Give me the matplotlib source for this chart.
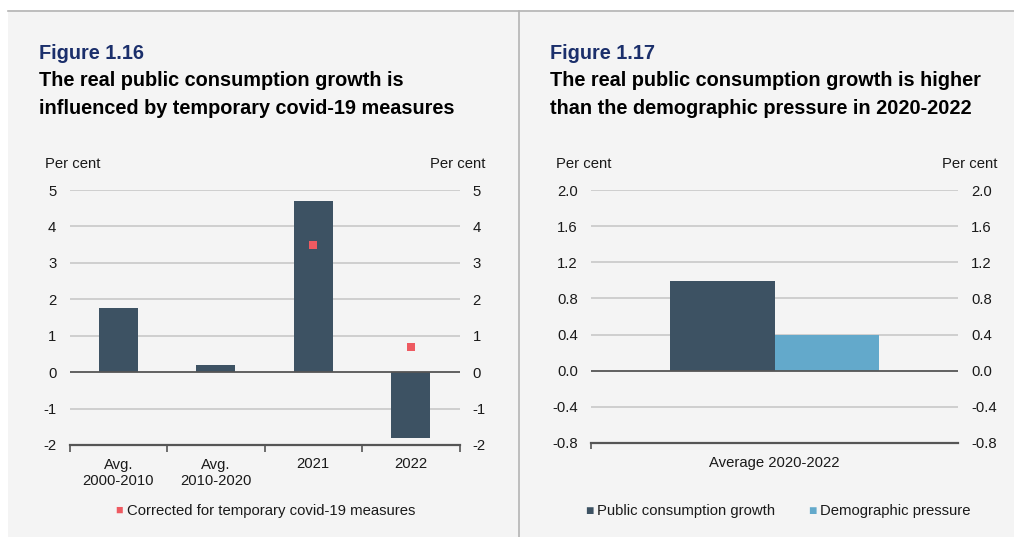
import matplotlib
matplotlib.use("Agg")
import matplotlib.pyplot as plt
from matplotlib.patches import Rectangle
from matplotlib.lines import Line2D
import numpy as np

plt.rcParams['font.family'] = ['Liberation Sans', 'DejaVu Sans']

# ---- data ----
left_categories = ["Avg.\n2000-2010", "Avg.\n2010-2020", "2021", "2022"]
left_growth = [1.75, 0.2, 4.7, -1.8]
left_corrected = [np.nan, np.nan, 3.5, 0.7]
left_ticks = [5, 4, 3, 2, 1, 0, -1, -2]

right_category = ["Average 2020-2022"]
right_public = [0.99]
right_demographic = [0.40]
right_ticks = [2.0, 1.6, 1.2, 0.8, 0.4, 0.0, -0.4, -0.8]

# ---- style ----
W, H = 1014, 537
BG = "#f4f4f4"
DARK = "#3d5263"
LIGHT = "#63a9cb"
RED = "#ee5a61"
GRID = "#c8c8c8"
AXLINE = "#555555"
NAVY = "#1b2f6b"
TXT = "#1a1a1a"
TS = 14.3   # title size
FS = 10.7   # body text size
PAD = 9.5   # tick label padding

fig = plt.figure(figsize=(W / 100, H / 100), dpi=100)
fig.patch.set_facecolor("white")


def px(x0, y0, x1, y1):
    """Axes rectangle from pixel box (top-left origin)."""
    return [x0 / W, 1 - y1 / H, (x1 - x0) / W, (y1 - y0) / H]


def fx(x):
    return x / W


def fy(y):
    return 1 - y / H


# panel background, top border and divider
fig.patches.append(Rectangle((fx(8), 0), 1 - fx(8), fy(10), transform=fig.transFigure,
                             facecolor=BG, edgecolor="none", zorder=-5))
fig.lines.append(Line2D([fx(8), 1], [fy(10.5), fy(10.5)], transform=fig.transFigure,
                        color="#b4b4b4", lw=1.2, zorder=-4))
fig.lines.append(Line2D([fx(519), fx(519)], [0, fy(10.5)], transform=fig.transFigure,
                        color="#b4b4b4", lw=1.2, zorder=-4))


def style_axes(ax, ticks, fmt):
    ax.set_facecolor("none")
    for s in ax.spines.values():
        s.set_visible(False)
    ax.set_yticks(ticks)
    ax.set_yticklabels([fmt(t) for t in ticks])
    ax.tick_params(axis="y", length=0, pad=PAD, labelsize=FS, labelcolor=TXT)
    for t in ticks[:-1]:
        if t == 0:
            ax.axhline(0, color=AXLINE, lw=1.3, zorder=3)
        else:
            ax.axhline(t, color=GRID, lw=1.2, zorder=0)
    ax.axhline(ticks[-1], color=AXLINE, lw=1.6, zorder=3, clip_on=False)
    ax.set_ylim(ticks[-1], ticks[0])
    ax2 = ax.twinx()
    ax2.set_ylim(ax.get_ylim())
    ax2.set_yticks(ticks)
    ax2.set_yticklabels([fmt(t) for t in ticks])
    ax2.tick_params(axis="y", length=0, pad=PAD, labelsize=FS, labelcolor=TXT)
    for s in ax2.spines.values():
        s.set_visible(False)
    return ax2


# ---------------- left panel ----------------
fig.text(fx(39), fy(53), "Figure 1.16", color=NAVY, fontsize=TS, fontweight="bold",
         va="center", ha="left")
fig.text(fx(39), fy(81), "The real public consumption growth is", color="black",
         fontsize=TS, fontweight="bold", va="center", ha="left")
fig.text(fx(39), fy(109), "influenced by temporary covid-19 measures", color="black",
         fontsize=TS, fontweight="bold", va="center", ha="left")
fig.text(fx(45), fy(164.5), "Per cent", fontsize=FS, color=TXT, va="center", ha="left")
fig.text(fx(486), fy(164.5), "Per cent", fontsize=FS, color=TXT, va="center", ha="right")

axl = fig.add_axes(px(69.5, 190, 459.5, 445))
xl = np.arange(len(left_categories))
axl.bar(xl, left_growth, width=0.4, color=DARK, zorder=2)
axl.scatter(xl, left_corrected, marker="s", s=40, color=RED, zorder=4, linewidths=0)
axl.set_xlim(-0.5, len(left_categories) - 0.5)
style_axes(axl, left_ticks, lambda t: f"{t:d}")
axl.set_xticks(xl)
axl.set_xticklabels(left_categories, fontsize=FS, color=TXT, linespacing=1.25)
axl.tick_params(axis="x", length=0, pad=9)
axl.set_xticks(np.arange(-0.5, len(left_categories)), minor=True)
axl.tick_params(axis="x", which="minor", length=5, width=1.2, color=AXLINE, direction="out")

# legend marker + label
fig.text(fx(119), fy(511), "\u25a0", color=RED, fontsize=9, va="center", ha="center")
fig.text(fx(127), fy(511), "Corrected for temporary covid-19 measures", fontsize=FS,
         color=TXT, va="center", ha="left")

# ---------------- right panel ----------------
fig.text(fx(550), fy(53), "Figure 1.17", color=NAVY, fontsize=TS, fontweight="bold",
         va="center", ha="left")
fig.text(fx(550), fy(81), "The real public consumption growth is higher", color="black",
         fontsize=TS, fontweight="bold", va="center", ha="left")
fig.text(fx(550), fy(109), "than the demographic pressure in 2020-2022", color="black",
         fontsize=TS, fontweight="bold", va="center", ha="left")
fig.text(fx(556), fy(164.5), "Per cent", fontsize=FS, color=TXT, va="center", ha="left")
fig.text(fx(997), fy(164.5), "Per cent", fontsize=FS, color=TXT, va="center", ha="right")

axr = fig.add_axes(px(591, 190, 958, 443))
bw = 0.285
axr.bar([-bw / 2], right_public, width=bw, color=DARK, zorder=2)
axr.bar([bw / 2], right_demographic, width=bw, color=LIGHT, zorder=2)
axr.set_xlim(-0.5, 0.5)
style_axes(axr, right_ticks, lambda t: f"{t:.1f}")
axr.set_xticks([0])
axr.set_xticklabels(right_category, fontsize=FS, color=TXT)
axr.tick_params(axis="x", length=0, pad=9)
axr.set_xticks([-0.5], minor=True)
axr.tick_params(axis="x", which="minor", length=4, width=1.2, color=AXLINE, direction="out")

fig.text(fx(589), fy(510.5), "\u25a0", color=DARK, fontsize=10, va="center", ha="center")
fig.text(fx(597), fy(510.5), "Public consumption growth", fontsize=FS, color=TXT,
         va="center", ha="left")
fig.text(fx(812), fy(510.5), "\u25a0", color=LIGHT, fontsize=10, va="center", ha="center")
fig.text(fx(820), fy(510.5), "Demographic pressure", fontsize=FS, color=TXT,
         va="center", ha="left")

fig.savefig("out.png", dpi=100, facecolor=fig.get_facecolor())
